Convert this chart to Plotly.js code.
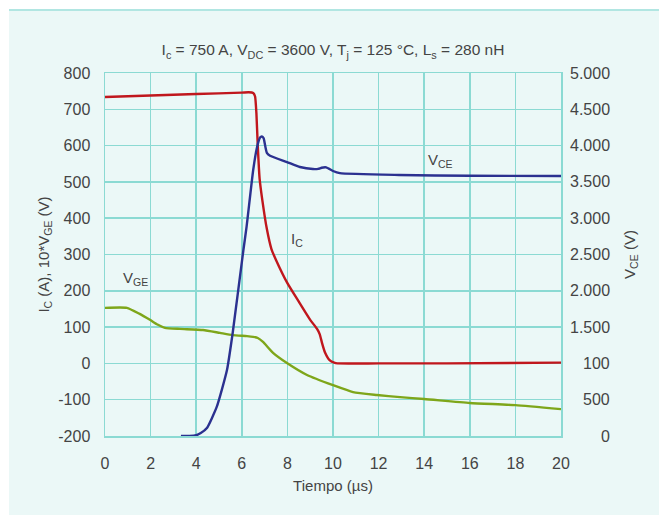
<!DOCTYPE html>
<html>
<head>
<meta charset="utf-8">
<script src="https://cdn.plot.ly/plotly-3.0.1.min.js"></script>
<style>
html,body{margin:0;padding:0;background:#ffffff;width:659px;height:515px;overflow:hidden;}
#topline{position:absolute;left:9px;top:9px;width:650px;height:2px;background:#b1e6e2;}
#chart{position:absolute;left:9px;top:9px;width:650px;height:506px;}
</style>
</head>
<body>
<div id="chart"></div>
<div id="topline"></div>
<script>
// Collector current I_C (A) vs time (µs)
const icTime = [0, 2, 4, 6, 6.3, 6.5, 6.58, 6.64, 6.7, 6.78, 6.9, 7.1, 7.3, 7.5, 8.0, 8.5, 9.0, 9.3, 9.42, 9.52, 9.65, 9.85, 10.05, 10.2, 12, 15, 20];
const icValues = [734, 738, 742, 746, 747, 745, 736, 690, 600, 510, 450, 370, 315, 285, 221, 170, 120, 95, 80, 56, 30, 9, 2, 0, 0, 0, 2];

// Gate voltage 10*V_GE (V) vs time (µs)
const vgeTime = [0, 0.96, 1.5, 1.97, 2.3, 2.63, 3.29, 4.3, 5.04, 5.6, 6.23, 6.5, 6.7, 6.93, 7.37, 7.98, 8.86, 10.0, 10.88, 11.93, 12.94, 14.0, 16.0, 18.0, 20.0];
const vgeValues = [153, 153, 137, 120, 107, 98, 95, 92, 84, 78, 75, 73, 70, 59, 29, 1, -32, -60, -79, -87, -93, -98, -109, -115, -126];

// Collector-emitter voltage V_CE (V) vs time (µs), right axis
const vceTime = [3.33, 3.7, 4.0, 4.2, 4.47, 4.9, 5.35, 5.6, 6.07, 6.21, 6.5, 6.67, 6.8, 6.88, 6.96, 7.03, 7.1, 7.24, 7.98, 8.55, 9.12, 9.35, 9.5, 9.7, 10.0, 10.3, 12.9, 16, 20];
const vceValues = [0, 0, 10, 40, 110, 400, 909, 1419, 2562, 2883, 3664, 3980, 4110, 4125, 4100, 3990, 3900, 3860, 3774, 3705, 3677, 3680, 3695, 3700, 3650, 3620, 3595, 3585, 3581];

// Axis ticks
const xTicks = [0, 2, 4, 6, 8, 10, 12, 14, 16, 18, 20];
const yLeftTicks = [-200, -100, 0, 100, 200, 300, 400, 500, 600, 700, 800];
const yRightTicks = [0, 500, 1000, 1500, 2000, 2500, 3000, 3500, 4000, 4500, 5000];
const yRightLabels = ['0', '500', '100', '1.500', '2.000', '2.500', '3.000', '3.500', '4.000', '4.500', '5.000'];

const gridColor = '#8bdad3';
const textColor = '#444444';
const fam = 'Liberation Sans, Arial, sans-serif';
const font = {family: fam, size: 16, color: textColor};
const labelFont = {family: fam, size: 15, color: textColor};

const traces = [
  {x: icTime, y: icValues, type: 'scatter', mode: 'lines', line: {color: '#c0171d', width: 2.4, shape: 'spline', smoothing: 0.5}, hoverinfo: 'skip', yaxis: 'y'},
  {x: vgeTime, y: vgeValues, type: 'scatter', mode: 'lines', line: {color: '#7ea61a', width: 2.4, shape: 'spline', smoothing: 0.5}, hoverinfo: 'skip', yaxis: 'y'},
  {x: vceTime, y: vceValues, type: 'scatter', mode: 'lines', line: {color: '#2b3190', width: 2.4, shape: 'spline', smoothing: 0.5}, hoverinfo: 'skip', yaxis: 'y2'}
];

const annotations = [
  {x: 8.4, y: 340, xref: 'x', yref: 'y', text: 'I<sub>C</sub>', showarrow: false, font: labelFont},
  {x: 1.35, y: 234, xref: 'x', yref: 'y', text: 'V<sub>GE</sub>', showarrow: false, font: labelFont},
  {x: 14.7, y: 558, xref: 'x', yref: 'y', text: 'V<sub>CE</sub>', showarrow: false, font: labelFont}
];
// right axis tick labels, right-aligned as in the reference
yRightTicks.forEach((v, i) => {
  annotations.push({x: 1, xref: 'paper', xanchor: 'right', xshift: 51, y: v, yref: 'y2', yanchor: 'middle',
    text: yRightLabels[i], showarrow: false, font: font});
});

const layout = {
  width: 650, height: 506,
  margin: {l: 96, r: 98, t: 64, b: 79},
  paper_bgcolor: '#ebf8f7',
  plot_bgcolor: '#ebf8f7',
  showlegend: false,
  font: font,
  title: {
    text: 'I<sub>c</sub> = 750 A, V<sub>DC</sub> = 3600 V, T<sub>j</sub> = 125 °C, L<sub>s</sub> = 280 nH',
    font: {family: fam, size: 15.5, color: textColor},
    x: 0.5, xref: 'paper', xanchor: 'center', y: 0.919, yref: 'container', yanchor: 'middle'
  },
  xaxis: {
    range: [0, 20], tickvals: xTicks, ticktext: xTicks.map(String),
    showgrid: true, gridcolor: gridColor, gridwidth: 1.5,
    showline: true, linecolor: gridColor, linewidth: 1.5, mirror: true,
    zeroline: false, ticks: '', ticklabelstandoff: 12,
    tickfont: font,
    title: {text: 'Tiempo (µs)', font: labelFont, standoff: 10}
  },
  yaxis: {
    range: [-200, 800], tickvals: yLeftTicks, ticktext: yLeftTicks.map(String),
    showgrid: true, gridcolor: gridColor, gridwidth: 1.5,
    showline: true, linecolor: gridColor, linewidth: 1.5, mirror: true,
    zeroline: false, ticks: '', tickfont: font, ticklabelstandoff: 10,
    title: {text: 'I<sub>C</sub> (A), 10*V<sub>GE</sub> (V)', font: labelFont, standoff: 5}
  },
  yaxis2: {
    range: [0, 5000], overlaying: 'y', side: 'right',
    tickvals: yRightTicks, showticklabels: false,
    showgrid: false, zeroline: false, showline: false, ticks: '',
    tickfont: font,
    title: {text: 'V<sub>CE</sub> (V)', font: labelFont, standoff: 63}
  },
  annotations: annotations
};

Plotly.newPlot('chart', traces, layout, {staticPlot: true, displayModeBar: false});
</script>
</body>
</html>
